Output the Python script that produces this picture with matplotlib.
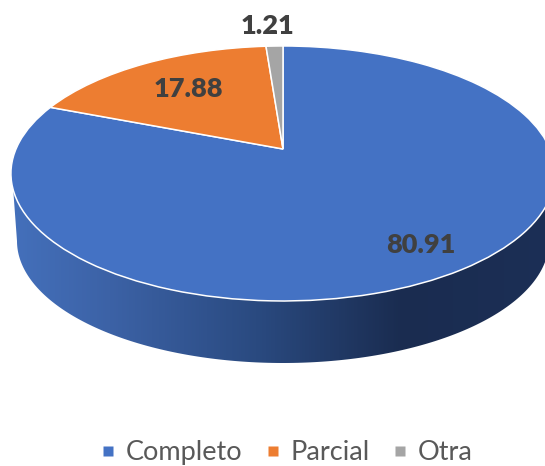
import numpy as np
import matplotlib
matplotlib.use("Agg")
import matplotlib.pyplot as plt
from matplotlib.colors import LinearSegmentedColormap
from matplotlib.lines import Line2D
from matplotlib.patches import Polygon
from matplotlib.transforms import Transform

categories = ["Completo", "Parcial", "Otra"]
values = [80.91, 17.88, 1.21]
colors = ["#4472C4", "#ED7D31", "#A5A5A5"]

W, H = 545, 466
APEX = (283, 149)
K, D, A = 0.192, 122.8, 267.0
DEPTH_CY, DEPTH_A, DEPTH_B = 241.0, 266.0, 122.0


class Tilt(Transform):
    """Perspective view of the flat pie, to pixel positions."""
    input_dims = output_dims = 2
    is_affine = False

    def transform_non_affine(self, pts):
        pts = np.asarray(pts, float)
        u, v = pts[:, 0], pts[:, 1]
        w = 1 + K * v
        return np.column_stack([APEX[0] + A * u / w, APEX[1] - D * v / w])


fig = plt.figure(figsize=(W / 100, H / 100), dpi=100)
ax = fig.add_axes([0, 0, 1, 1])

wedges, _ = ax.pie(values, colors=colors, startangle=90, counterclock=False,
                   wedgeprops=dict(edgecolor="white", linewidth=1.1))
ax.set_aspect("auto")
ax.set_xlim(0, W)
ax.set_ylim(H, 0)
ax.axis("off")
tilt = Tilt()
for w in wedges:
    w.set_transform(tilt + ax.transData)
    w.set_zorder(3)

# extruded side with horizontal shading
t = np.linspace(0, np.pi, 200)
lower = np.column_stack([APEX[0] + DEPTH_A * np.cos(t),
                         DEPTH_CY + DEPTH_B * np.sin(t)])
side = np.vstack([[[APEX[0] + 271, 173]], lower, [[APEX[0] - 271, 173]]])
cmap = LinearSegmentedColormap.from_list(
    "side", [(0, "#4470BB"), (0.18, "#3C62A6"), (0.45, "#2A4A80"),
             (0.72, "#1A2C50"), (1, "#1C2F56")])
grad = np.linspace(0, 1, 512).reshape(1, -1)
im = ax.imshow(grad, cmap=cmap, extent=(12, W + 10, H, 0), aspect="auto", zorder=1)
ax.set_xlim(0, W)
ax.set_ylim(H, 0)
clip = Polygon(side, closed=True, transform=ax.transData, fc="none", ec="none")
ax.add_patch(clip)
im.set_clip_path(clip)

label_pos = [(421, 245), (188, 89), (268, 26)]
for val, (x, y) in zip(values, label_pos):
    ax.text(x, y, f"{val:.2f}", family="Lato", weight="heavy", fontsize=19.5,
            color="#404040", ha="center", va="center", zorder=5)

handles = [Line2D([], [], ls="none", marker="s", ms=7.6, mfc=c, mec="none") for c in colors]
ax.legend(handles, categories, loc="center", bbox_to_anchor=(286.5 / W, 1 - 452.5 / H),
          ncol=3, frameon=False, prop=dict(family="Lato", size=19.5),
          labelcolor="#595959", handlelength=0.55, handletextpad=0.38,
          columnspacing=0.85, borderpad=0)

fig.savefig("out.png", dpi=100, facecolor="white")
